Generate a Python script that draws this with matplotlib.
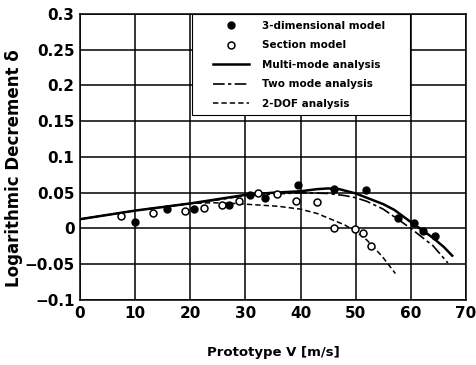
import matplotlib
matplotlib.use('Agg')
import matplotlib.pyplot as plt
from matplotlib.patches import Rectangle

# measured points
v_3d = [10.0, 15.8, 20.6, 27.0, 30.8, 33.5, 39.6, 46.0, 51.9, 57.7, 60.5, 62.2, 64.3]
d_3d = [0.009, 0.027, 0.027, 0.033, 0.047, 0.043, 0.061, 0.055, 0.054, 0.015, 0.007, -0.004, -0.011]

v_sec = [7.4, 13.2, 19.1, 22.5, 25.7, 28.8, 32.2, 35.7, 39.1, 42.9, 46.1, 49.9, 51.4, 52.8]
d_sec = [0.017, 0.021, 0.024, 0.028, 0.033, 0.039, 0.049, 0.048, 0.039, 0.037, 0.001, -0.001, -0.006, -0.025]

# analysis curves
v_multi = [0, 5, 10, 15, 20, 25, 30, 35, 40, 43, 45, 47, 50, 53, 55, 57, 60, 62, 64, 66, 67.5]
d_multi = [0.013, 0.019, 0.025, 0.030, 0.035, 0.041, 0.047, 0.050, 0.052, 0.055, 0.056, 0.055,
           0.049, 0.040, 0.034, 0.026, 0.009, -0.002, -0.013, -0.026, -0.038]

v_two = [0, 5, 10, 15, 20, 25, 30, 35, 40, 45, 48, 50, 52, 55, 58, 60, 62, 64, 66.7]
d_two = [0.013, 0.019, 0.025, 0.030, 0.035, 0.040, 0.046, 0.048, 0.050, 0.049, 0.046, 0.043,
         0.038, 0.027, 0.011, 0.000, -0.012, -0.024, -0.048]

v_dof = [0, 5, 10, 15, 20, 24, 28, 32, 36, 40, 43, 45.5, 48, 50, 52, 53.5, 55, 57.2]
d_dof = [0.013, 0.019, 0.025, 0.030, 0.035, 0.036, 0.035, 0.033, 0.031, 0.027, 0.021, 0.013,
         0.005, -0.004, -0.016, -0.028, -0.041, -0.063]

yticks = [-0.1, -0.05, 0, 0.05, 0.1, 0.15, 0.2, 0.25, 0.3]
ytick_labels = ['\u22120.1', '\u22120.05', '0', '0.05', '0.1', '0.15', '0.2', '0.25', '0.3']
xticks = [0, 10, 20, 30, 40, 50, 60, 70]

plt.rcParams['font.family'] = 'DejaVu Sans'
plt.rcParams['font.weight'] = 'bold'

fig = plt.figure(figsize=(4.76, 3.65), dpi=100)
ax = fig.add_axes([0.168, 0.178, 0.811, 0.784])

ax.plot(v_3d, d_3d, 'o', color='black', markersize=5, label='3-dimensional model', zorder=5)
ax.plot(v_sec, d_sec, 'o', markerfacecolor='white', markeredgecolor='black', markeredgewidth=1.1,
        markersize=5, label='Section model', zorder=5)
ax.plot(v_two, d_two, color='black', lw=1.2, dashes=(7, 2, 2, 2), label='Two mode analysis', zorder=3)
ax.plot(v_dof, d_dof, color='black', lw=1.1, dashes=(3.5, 2), label='2-DOF analysis', zorder=3)
ax.plot(v_multi, d_multi, color='black', lw=1.8, label='Multi-mode analysis', zorder=4)

ax.set_xlim(0, 70)
ax.set_ylim(-0.1, 0.3)
ax.set_xticks(xticks)
ax.set_yticks(yticks)
ax.set_yticklabels(ytick_labels)
ax.tick_params(length=0, labelsize=11, pad=4)
for lbl in ax.get_xticklabels() + ax.get_yticklabels():
    lbl.set_fontweight('bold')
ax.grid(True, color='black', lw=1.1)
for s in ax.spines.values():
    s.set_linewidth(1.1)

ax.set_xlabel('Prototype V [m/s]', fontsize=9.5, fontweight='bold', labelpad=18)
ax.set_ylabel('Logarithmic Decrement \u03b4', fontsize=12, fontweight='bold')
ax.yaxis.set_label_coords(-0.148, 0.46)

# legend box
box = Rectangle((0.29, 0.647), 0.565, 0.353, transform=ax.transAxes, facecolor='white',
                edgecolor='black', lw=0.8, zorder=8)
ax.add_patch(box)

handles, labels = ax.get_legend_handles_labels()
order = [0, 1, 4, 2, 3]
leg = ax.legend([handles[i] for i in order], [labels[i] for i in order],
                loc='upper left', bbox_to_anchor=(0.345, 0.975), frameon=False,
                borderaxespad=0, borderpad=0, fontsize=7.5, labelspacing=0.9,
                handlelength=3.4, handletextpad=1.3)
leg.set_zorder(10)

fig.savefig('out.png', dpi=100)
